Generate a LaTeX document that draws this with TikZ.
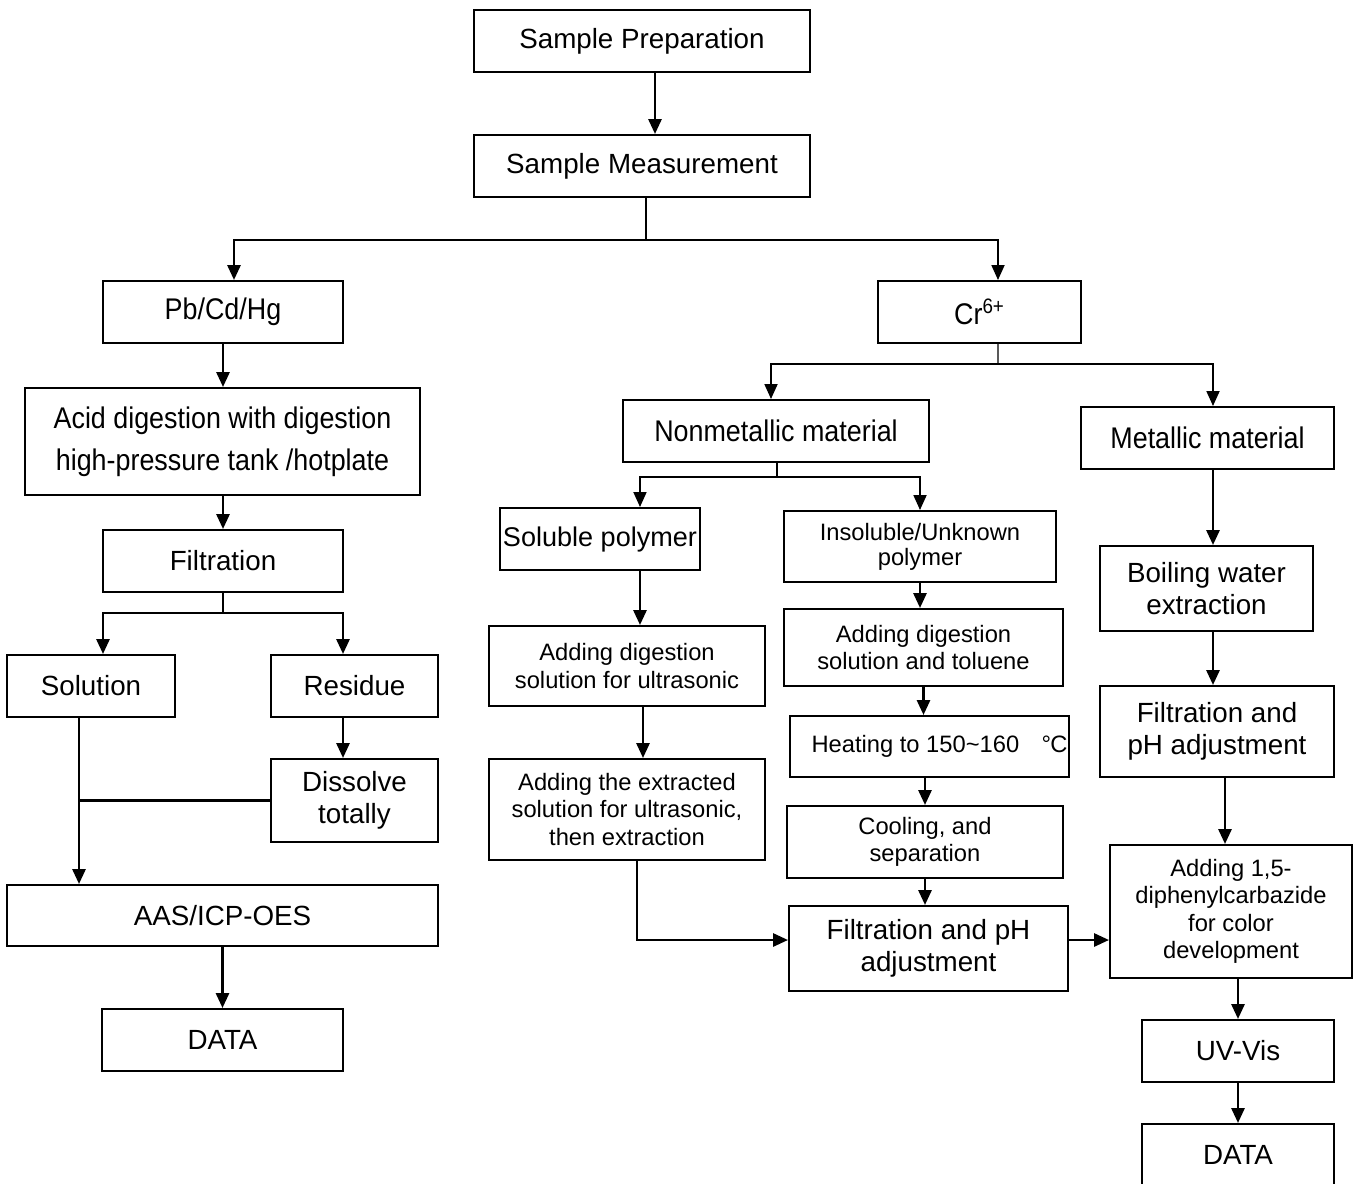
\documentclass[tikz,border=0pt]{standalone}
\usepackage{fontspec}
\setmainfont{Liberation Sans}
\newfontfamily\narrowsf[FakeStretch=0.9]{Liberation Sans}
\usetikzlibrary{positioning,arrows.meta,calc}

\begin{document}
\begin{tikzpicture}[
  x=0.02cm, y=-0.02cm,
  stepbox/.style={draw=black, line width=1.2pt, align=center, inner xsep=1pt, inner ysep=2pt,
    minimum height=1.24cm, font=\fontsize{15.8}{18.3}\selectfont},
  smallbox/.style={stepbox, font=\fontsize{13.5}{15.6}\selectfont},
  narrowbox/.style={stepbox, font=\narrowsf\fontsize{17}{19}\selectfont},
  arr/.style={-{Triangle[length=8.5pt,width=7.5pt]}, line width=1.35pt},
  link/.style={line width=1.35pt},
  thinlink/.style={line width=0.7pt}
]
  \useasboundingbox (0,0) rectangle (1360,1184);

  % top
  \node[stepbox, minimum width=6.72cm] (prep) at (642,41) {Sample Preparation};
  \node[stepbox, minimum width=6.72cm] (meas) at (642,166) {Sample Measurement};

  % Pb/Cd/Hg branch
  \node[narrowbox, minimum width=4.8cm] (pb) at (223,312) {Pb/Cd/Hg};
  \node[narrowbox, minimum width=7.9cm, minimum height=2.14cm,
    font=\narrowsf\fontsize{17}{23.8}\selectfont] (acid) at (222.5,441.5)
    {Acid digestion with digestion\\high-pressure tank /hotplate};
  \node[stepbox, minimum width=4.8cm] (filt) at (223,561) {Filtration};
  \node[stepbox, minimum width=3.36cm] (sol) at (91,686) {Solution};
  \node[stepbox, minimum width=3.34cm] (res) at (354.5,686) {Residue};
  \node[stepbox, minimum width=3.34cm, minimum height=1.66cm] (diss) at (354.5,800.5) {Dissolve\\totally};
  \node[stepbox, minimum width=8.62cm, minimum height=1.22cm] (aas) at (222.5,915.5) {AAS/ICP-OES};
  \node[stepbox, minimum width=4.82cm] (dataA) at (222.5,1040) {DATA};

  % Cr6+ branch
  \node[narrowbox, minimum width=4.06cm] (cr) at (979.5,312) {Cr\textsuperscript{6+}};
  \node[narrowbox, minimum width=6.12cm] (nonm) at (776,431) {Nonmetallic material};
  \node[narrowbox, minimum width=5.06cm] (metal) at (1207.5,438) {Metallic material};
  \node[stepbox, minimum width=4.0cm, font=\fontsize{15.4}{18}\selectfont] (solp) at (600,539) {Soluble polymer};
  \node[smallbox, minimum width=5.44cm, minimum height=1.42cm,
    font=\fontsize{13.5}{14.2}\selectfont] (insol) at (920,546.5) {Insoluble/Unknown\\polymer};
  \node[smallbox, minimum width=5.52cm, minimum height=1.6cm] (addA) at (627,666)
    {Adding digestion\\solution for ultrasonic};
  \node[smallbox, minimum width=5.52cm, minimum height=2.02cm] (addB) at (627,809.5)
    {Adding the extracted\\solution for ultrasonic,\\then extraction};
  \node[smallbox, minimum width=5.58cm, minimum height=1.54cm] (tol) at (923.5,647.5)
    {Adding digestion\\solution and toluene};
  \node[smallbox, minimum width=5.58cm, minimum height=1.22cm, inner xsep=0pt] (heat) at (929.5,746.5)
    {\hspace*{0.4cm}Heating to 150\textasciitilde160\hspace{0.45cm}\textdegree\kern-0.5pt C};
  \node[smallbox, minimum width=5.52cm, minimum height=1.44cm] (cool) at (925,842)
    {Cooling, and\\separation};
  \node[stepbox, minimum width=5.58cm, minimum height=1.7cm] (fph) at (928.5,948.5)
    {Filtration and pH\\adjustment};
  \node[stepbox, minimum width=4.26cm, minimum height=1.7cm] (boil) at (1206.5,588.5)
    {Boiling water\\extraction};
  \node[stepbox, minimum width=4.68cm, minimum height=1.82cm] (fphB) at (1217,731.5)
    {Filtration and\\pH adjustment};
  \node[smallbox, minimum width=4.84cm, minimum height=2.66cm] (diph) at (1231,911.5)
    {Adding 1,5-\\diphenylcarbazide\\for color\\development};
  \node[stepbox, minimum width=3.84cm] (uv) at (1238,1051) {UV-Vis};
  \node[stepbox, minimum width=3.84cm] (dataB) at (1238,1155) {DATA};

  % split points and offset ends
  \coordinate (splitA) at (646,240);
  \coordinate (splitB) at (223,613);
  \coordinate (splitC) at (998,364);
  \coordinate (splitD) at (777,477);
  \coordinate (solout) at ([xshift=-0.24cm]sol.south);
  \coordinate (solpout) at ([xshift=0.8cm]solp.south);
  \coordinate (addAout) at ([xshift=0.32cm]addA.south);
  \coordinate (addBout) at ([xshift=0.2cm]addB.south);
  \coordinate (fphout) at ([yshift=0.17cm]fph.east);
  \coordinate (metalout) at ([xshift=0.11cm]metal.south);
  \coordinate (resout) at ([xshift=-0.23cm]res.south);

  % connectors, left
  \draw[arr] ([xshift=0.26cm]prep.south) -- ([xshift=0.26cm]meas.north);
  \draw[link] (meas.south -| splitA) -- (splitA);
  \draw[arr] (splitA) -| ([xshift=0.22cm]pb.north);
  \draw[arr, thinlink] (splitA) -| ([xshift=0.37cm]cr.north);
  \draw[arr] (pb.south) -- (pb.south |- acid.north);
  \draw[arr] (acid.south -| filt) -- (filt.north);
  \draw[link] (filt.south) -- (splitB);
  \draw[arr] (splitB) -| ([xshift=0.24cm]sol.north);
  \draw[arr] (splitB) -| ([xshift=-0.23cm]res.north);
  \draw[arr] (resout) -- (resout |- diss.north);
  \draw[arr] (solout) -- (solout |- aas.north);
  \draw[link] (diss.west) -- (diss.west -| solout);
  \draw[arr] (aas.south) -- (dataA.north);

  % connectors, right
  \draw[thinlink] ([xshift=0.37cm]cr.south) -- (splitC);
  \draw[arr, thinlink] (splitC) -| ([xshift=-0.1cm]nonm.north);
  \draw[arr, thinlink] (splitC) -| ([xshift=0.11cm]metal.north);
  \draw[thinlink] (nonm.south -| splitD) -- (splitD);
  \draw[arr, thinlink] (splitD) -| ([xshift=0.8cm]solp.north);
  \draw[arr, thinlink] (splitD) -| (insol.north);
  \draw[arr] (solpout) -- (solpout |- addA.north);
  \draw[arr] (addAout) -- (addAout |- addB.north);
  \draw[arr] (addBout) |- (fph.west |- fphout);
  \draw[arr] (insol.south) -- (insol.south |- tol.north);
  \draw[arr] (tol.south) -- (tol.south |- heat.north);
  \draw[arr] (cool.north |- heat.south) -- (cool.north);
  \draw[arr] (cool.south) -- (cool.south |- fph.north);
  \draw[arr] (fphout) -- (fphout -| diph.west);
  \draw[arr] (metalout) -- (metalout |- boil.north);
  \draw[arr] (metalout |- boil.south) -- (metalout |- fphB.north);
  \draw[arr] ([xshift=0.16cm]fphB.south) -- ([xshift=0.16cm]fphB.south |- diph.north);
  \draw[arr] (uv.north |- diph.south) -- (uv.north);
  \draw[arr] (uv.south) -- (dataB.north);
\end{tikzpicture}
\end{document}
